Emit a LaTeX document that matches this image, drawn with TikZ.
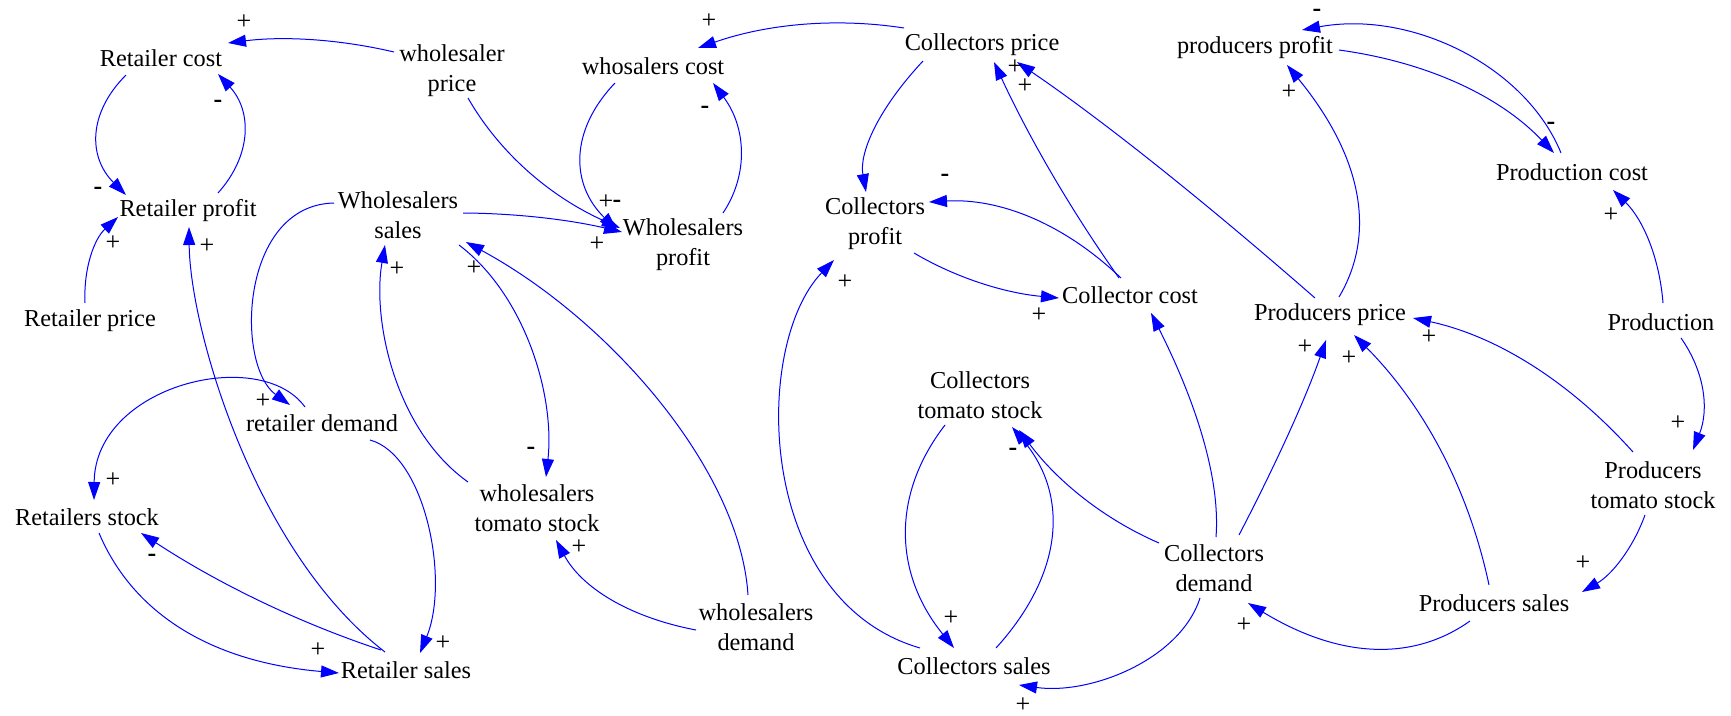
\documentclass[tikz,border=0pt]{standalone}
\usepackage{fontspec}
\setmainfont{Liberation Serif}
\usetikzlibrary{arrows.meta}
\begin{document}
\begin{tikzpicture}[x=1pt,y=-1pt,
  var/.style={inner sep=0pt, align=center, font=\fontsize{24.3}{30}\selectfont},
  sgn/.style={inner sep=0pt, font=\fontsize{26}{26}\selectfont},
  link/.style={draw={rgb,255:red,0;green,0;blue,255}, line width=1pt,
    -{Triangle[length=18pt,width=12pt]}},
]
\useasboundingbox[fill=white] (0,0) rectangle (1731,715);

% variables
\node[var] (rc)  at (161,58)  {Retailer cost};
\node[var] (wp)  at (452,71)  {wholesaler\\price};
\node[var] (rp)  at (188,211) {Retailer profit};
\node[var] (rpr) at (90,321)  {Retailer price};
\node[var] (ws)  at (398,215) {Wholesalers\\sales};
\node[var] (wc)  at (653,66)  {whosalers cost};
\node[var] (cp)  at (982,45)  {Collectors price};
\node[var] (wpf) at (683,245) {Wholesalers\\profit};
\node[var] (cpf) at (875,224) {Collectors\\profit};
\node[var] (cc)  at (1130,295) {Collector cost};
\node[var] (pp)  at (1255,48) {producers profit};
\node[var] (pc)  at (1572,172) {Production cost};
\node[var] (ppr) at (1330,315) {Producers price};
\node[var] (pro) at (1661,322) {Production};
\node[var] (rs)  at (87,517)  {Retailers stock};
\node[var] (rd)  at (322,423) {retailer demand};
\node[var] (wts) at (537,508) {wholesalers\\tomato stock};
\node[var] (wd)  at (756,627) {wholesalers\\demand};
\node[var] (rsa) at (406,670) {Retailer sales};
\node[var] (cts) at (980,395) {Collectors\\tomato stock};
\node[var] (csa) at (974,666) {Collectors sales};
\node[var] (cd)  at (1214,568) {Collectors\\demand};
\node[var] (psa) at (1494,603) {Producers sales};
\node[var] (pts) at (1653,485) {Producers\\tomato stock};

% causal links
\draw[link] ([shift={(-58,-19)}]wp.center) .. controls (338.7,39) and (283.3,36) .. ([shift={(67,-15)}]rc.center);
\draw[link] ([shift={(-35,17)}]rc.center) .. controls (88,113) and (88,157) .. ([shift={(-62,-16)}]rp.center);
\draw[link] ([shift={(30,-18)}]rp.center) .. controls (252,155) and (252,111) .. ([shift={(57,16)}]rc.center);
\draw[link] ([shift={(-5,-18)}]rpr.center) .. controls (83.5,267.3) and (94.5,238.7) .. ([shift={(-70,6)}]rp.center);
\draw[link] ([shift={(-21,-18)}]rsa.center) .. controls (255,552) and (190,330) .. ([shift={(1,16)}]rp.center);
\draw[link] ([shift={(-25,-20)}]rsa.center) .. controls (298,622.5) and (218,583.5) .. ([shift={(54,16)}]rs.center);
\draw[link] ([shift={(12,16)}]rs.center) .. controls (134,615.7) and (214,662.3) .. ([shift={(-67,3)}]rsa.center);
\draw[link] ([shift={(-17,-16)}]rd.center) .. controls (260,345) and (95,385) .. ([shift={(7,-17)}]rs.center);
\draw[link] ([shift={(-64,-12)}]ws.center) .. controls (240,205) and (235,365) .. ([shift={(-32,-18)}]rd.center);
\draw[link] ([shift={(48,17)}]rd.center) .. controls (425,455) and (450,580) .. ([shift={(14,-17)}]rsa.center);
\draw[link] ([shift={(65,-2)}]ws.center) .. controls (516.5,213.3) and (569.5,219.7) .. ([shift={(-61,-13)}]wpf.center);
\draw[link] ([shift={(16,27)}]wp.center) .. controls (499.7,153.3) and (550.3,196.7) .. ([shift={(-63,-17)}]wpf.center);
\draw[link] ([shift={(-38,17)}]wc.center) .. controls (570,130) and (570,184) .. ([shift={(-66,-15)}]wpf.center);
\draw[link] ([shift={(40,-32)}]wpf.center) .. controls (749,174) and (746,127) .. ([shift={(60,17)}]wc.center);
\draw[link] ([shift={(-78,-17)}]cp.center) .. controls (835.3,17.4) and (766.7,24) .. ([shift={(45,-18)}]wc.center);
\draw[link] ([shift={(61,30)}]ws.center) .. controls (525,295) and (555,395) .. ([shift={(9,-31)}]wts.center);
\draw[link] ([shift={(-69,-26)}]wts.center) .. controls (395,430) and (372,320) .. ([shift={(-13,30)}]ws.center);
\draw[link] ([shift={(-8,-32)}]wd.center) .. controls (740,470) and (610,320) .. ([shift={(68,27)}]ws.center);
\draw[link] ([shift={(-60,3)}]wd.center) .. controls (628,617) and (581.4,587) .. ([shift={(19,32)}]wts.center);
\draw[link] ([shift={(-59,16)}]cp.center) .. controls (878,109.2) and (859,152.8) .. ([shift={(-9,-32)}]cpf.center);
\draw[link] ([shift={(-9,-17)}]cc.center) .. controls (1063.7,223.4) and (999.7,198) .. ([shift={(54,-22)}]cpf.center);
\draw[link] ([shift={(-11,-17)}]cc.center) .. controls (1070.8,210) and (1029.2,138) .. ([shift={(12,17)}]cp.center);
\draw[link] ([shift={(-15,-17)}]ppr.center) .. controls (1199.7,197.3) and (1100.3,118.7) .. ([shift={(35,17)}]cp.center);
\draw[link] ([shift={(39,29)}]cpf.center) .. controls (956.3,278) and (1004.7,293) .. ([shift={(-71,3)}]cc.center);
\draw[link] ([shift={(-54,-18)}]csa.center) .. controls (755,600) and (752,345) .. ([shift={(-41,36)}]cpf.center);
\draw[link] ([shift={(-35,30)}]cts.center) .. controls (891,495) and (894,574) .. ([shift={(-20,-18)}]csa.center);
\draw[link] ([shift={(22,-18)}]csa.center) .. controls (1064,573) and (1069,495) .. ([shift={(32,32)}]cts.center);
\draw[link] ([shift={(-55,-25)}]cd.center) .. controls (1104.3,519.3) and (1057.7,481.7) .. ([shift={(39,35)}]cts.center);
\draw[link] ([shift={(2,-31)}]cd.center) .. controls (1220.3,482.3) and (1198.7,407.7) .. ([shift={(21,18)}]cc.center);
\draw[link] ([shift={(25,-33)}]cd.center) .. controls (1278,460) and (1307,395) .. ([shift={(-4,25)}]ppr.center);
\draw[link] ([shift={(-14,30)}]cd.center) .. controls (1180,660) and (1090,695) .. ([shift={(45,19)}]csa.center);
\draw[link] ([shift={(-24,18)}]psa.center) .. controls (1410.7,663) and (1336.7,657) .. ([shift={(34,35)}]cd.center);
\draw[link] ([shift={(-5,-18)}]psa.center) .. controls (1468.5,488.4) and (1423.5,405) .. ([shift={(24,20)}]ppr.center);
\draw[link] ([shift={(-20,-33)}]pts.center) .. controls (1568.7,380.3) and (1495.3,335.7) .. ([shift={(83,3)}]ppr.center);
\draw[link] ([shift={(20,16)}]pro.center) .. controls (1705,372.3) and (1709,409.7) .. ([shift={(40,-35)}]pts.center);
\draw[link] ([shift={(-8,30)}]pts.center) .. controls (1632.5,549.2) and (1611.5,574.8) .. ([shift={(88,-11)}]psa.center);
\draw[link] ([shift={(2,-19)}]pro.center) .. controls (1659.3,256.8) and (1642.7,219.2) .. ([shift={(41,18)}]pc.center);
\draw[link] ([shift={(84,2)}]pp.center) .. controls (1428.7,62.3) and (1500.3,96.7) .. ([shift={(-18,-19)}]pc.center);
\draw[link] ([shift={(-11,-19)}]pc.center) .. controls (1525,65) and (1410,10) .. ([shift={(47,-18)}]pp.center);
\draw[link] ([shift={(9,-18)}]ppr.center) .. controls (1377.7,231.7) and (1360.3,154.3) .. ([shift={(32,17)}]pp.center);

% polarity signs
\node[sgn] (s1)  at (244,22)  {+};
\node[sgn] (s2)  at (98,191)  {\textbf{-}};
\node[sgn] (s3)  at (218,104) {\textbf{-}};
\node[sgn] (s4)  at (113,243) {+};
\node[sgn] (s5)  at (207,246) {+};
\node[sgn] (s6)  at (152,558) {\textbf{-}};
\node[sgn] (s7)  at (318,650) {+};
\node[sgn] (s8)  at (113,480) {+};
\node[sgn] (s9)  at (263,401) {+};
\node[sgn] (s10) at (443,643) {+};
\node[sgn] (s11) at (597,244) {+};
\node[sgn] (s12) at (606,202) {+};
\node[sgn] (s13) at (617,204) {\textbf{-}};
\node[sgn] (s14) at (705,110) {\textbf{-}};
\node[sgn] (s15) at (709,21)  {+};
\node[sgn] (s16) at (531,451) {\textbf{-}};
\node[sgn] (s17) at (397,269) {+};
\node[sgn] (s18) at (474,268) {+};
\node[sgn] (s19) at (579,547) {+};
\node[sgn] (s21) at (945,178) {\textbf{-}};
\node[sgn] (s22) at (1015,67) {+};
\node[sgn] (s23) at (1025,86) {+};
\node[sgn] (s24) at (1039,315) {+};
\node[sgn] (s25) at (845,282) {+};
\node[sgn] (s26) at (951,618) {+};
\node[sgn] (s27) at (1013,452) {\textbf{-}};
\node[sgn] (s30) at (1305,347) {+};
\node[sgn] (s31) at (1023,705) {+};
\node[sgn] (s32) at (1244,625) {+};
\node[sgn] (s33) at (1349,358) {+};
\node[sgn] (s34) at (1429,337) {+};
\node[sgn] (s35) at (1678,423) {+};
\node[sgn] (s36) at (1583,563) {+};
\node[sgn] (s37) at (1611,215) {+};
\node[sgn] (s38) at (1551,126) {\textbf{-}};
\node[sgn] (s39) at (1317,13) {\textbf{-}};
\node[sgn] (s40) at (1289,92) {+};
\end{tikzpicture}
\end{document}
